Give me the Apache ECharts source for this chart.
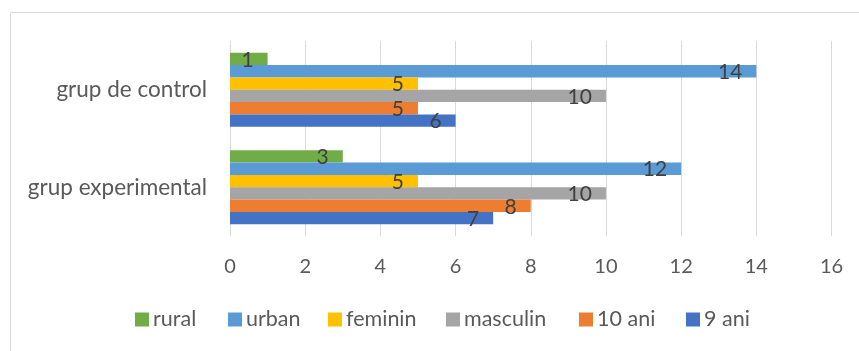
<!DOCTYPE html>
<html>
<head>
<meta charset="utf-8">
<script src="https://cdn.jsdelivr.net/npm/echarts@6/dist/echarts.min.js"></script>
<style>
  html, body { margin: 0; padding: 0; background: #ffffff; }
  #chart { width: 859px; height: 351px; }
</style>
</head>
<body>
<div id="chart"></div>
<script>
// Groups on the category axis (bottom to top)
const groups = ['grup experimental', 'grup de control'];

// Series names, listed top to bottom inside each group
const seriesNames = ['rural', 'urban', 'feminin', 'masculin', '10 ani', '9 ani'];

// Counts per series: [grup experimental, grup de control]
const rural    = [3, 1];
const urban    = [12, 14];
const feminin  = [5, 5];
const masculin = [10, 10];
const ani10    = [8, 5];
const ani9     = [7, 6];

// Value axis ticks
const xTicks = [0, 2, 4, 6, 8, 10, 12, 14, 16];

const values = [rural, urban, feminin, masculin, ani10, ani9];
const colors = ['#70AD47', '#5B9BD5', '#FFC000', '#A5A5A5', '#ED7D31', '#4472C4'];
const FONT = 'Lato';

// Left edge of each legend entry's swatch
const legendLeft = [135, 228, 328, 446, 579, 686];

const chart = echarts.init(document.getElementById('chart'), null, { renderer: 'canvas' });

chart.setOption({
  animation: false,
  backgroundColor: '#ffffff',
  textStyle: { fontFamily: FONT },
  graphic: [{
    type: 'rect',
    shape: { x: 10.5, y: 12.5, width: 900, height: 400 },
    style: { fill: 'none', stroke: '#D9D9D9', lineWidth: 1 },
    silent: true
  }],
  grid: { left: 230, right: 27.5, top: 41, bottom: 115, containLabel: false },
  legend: seriesNames.map((name, i) => ({
    data: [name],
    left: legendLeft[i],
    top: 308.5,
    padding: 0,
    itemWidth: 14,
    itemHeight: 14,
    itemGap: 0,
    icon: 'rect',
    textStyle: { fontFamily: FONT, fontSize: 21.5, color: '#595959', padding: [0, 0, 0, -1] }
  })),
  xAxis: {
    type: 'value',
    min: xTicks[0],
    max: xTicks[xTicks.length - 1],
    interval: xTicks[1] - xTicks[0],
    axisLine: { show: false },
    axisTick: { show: false },
    splitLine: { show: true, lineStyle: { color: '#D9D9D9', width: 1 } },
    axisLabel: { color: '#595959', fontSize: 20, fontFamily: FONT, margin: 21 }
  },
  yAxis: {
    type: 'category',
    data: groups,
    axisLine: { show: false },
    axisTick: { show: false },
    axisLabel: { color: '#595959', fontSize: 22.5, fontFamily: FONT, margin: 23 }
  },
  series: seriesNames.map((name, i) => ({
    name: name,
    type: 'bar',
    data: values[i],
    barGap: '0%',
    barCategoryGap: '24%',
    itemStyle: { color: colors[i] },
    label: {
      show: true,
      position: 'insideRight',
      distance: 14,
      offset: [0, 1],
      color: '#404040',
      fontSize: 21,
      fontFamily: FONT
    }
  }))
});
</script>
</body>
</html>
